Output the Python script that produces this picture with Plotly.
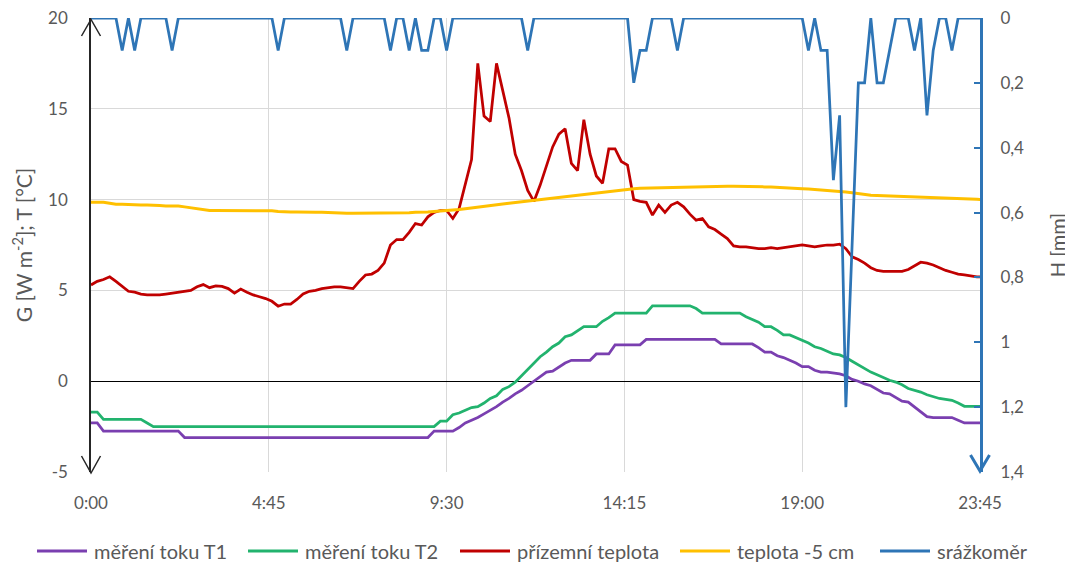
import plotly.graph_objects as go

# ---- data (10-minute records) ----
minutes = list(range(0, 1440, 10))

tick_minutes = [0, 285, 570, 855, 1140, 1425]
tick_labels = ["0:00", "4:45", "9:30", "14:15", "19:00", "23:45"]

left_ticks = [-5, 0, 5, 10, 15, 20]
left_labels = ["-5", "0", "5", "10", "15", "20"]
right_ticks = [0, 0.2, 0.4, 0.6, 0.8, 1.0, 1.2, 1.4]
right_labels = ["0", "0,2", "0,4", "0,6", "0,8", "1", "1,2", "1,4"]

names = ["měření toku T1", "měření toku T2", "přízemní teplota", "teplota -5 cm", "srážkoměr"]

flux_t1 = [
    -2.3, -2.3, -2.75, -2.75, -2.75, -2.75, -2.75, -2.75, -2.75, -2.75, -2.75, -2.75,
    -2.75, -2.75, -2.75, -3.1, -3.1, -3.1, -3.1, -3.1, -3.1, -3.1, -3.1, -3.1,
    -3.1, -3.1, -3.1, -3.1, -3.1, -3.1, -3.1, -3.1, -3.1, -3.1, -3.1, -3.1,
    -3.1, -3.1, -3.1, -3.1, -3.1, -3.1, -3.1, -3.1, -3.1, -3.1, -3.1, -3.1,
    -3.1, -3.1, -3.1, -3.1, -3.1, -3.1, -3.1, -2.75, -2.75, -2.75, -2.75, -2.55,
    -2.3, -2.15, -2.0, -1.8, -1.6, -1.4, -1.15, -0.95, -0.7, -0.5, -0.25, 0.0,
    0.25, 0.5, 0.55, 0.8, 1.0, 1.15, 1.15, 1.15, 1.15, 1.5, 1.5, 1.5,
    2.0, 2.0, 2.0, 2.0, 2.0, 2.3, 2.3, 2.3, 2.3, 2.3, 2.3, 2.3,
    2.3, 2.3, 2.3, 2.3, 2.3, 2.05, 2.05, 2.05, 2.05, 2.05, 2.05, 1.85,
    1.6, 1.6, 1.4, 1.3, 1.15, 1.0, 0.8, 0.8, 0.6, 0.5, 0.5, 0.45,
    0.4, 0.3, 0.1, 0.0, -0.15, -0.25, -0.45, -0.65, -0.7, -0.9, -1.1, -1.15,
    -1.4, -1.7, -1.95, -2.0, -2.0, -2.0, -2.0, -2.15, -2.3, -2.3, -2.3, -2.3,
]

flux_t2 = [
    -1.7, -1.7, -2.1, -2.1, -2.1, -2.1, -2.1, -2.1, -2.1, -2.3, -2.5, -2.5,
    -2.5, -2.5, -2.5, -2.5, -2.5, -2.5, -2.5, -2.5, -2.5, -2.5, -2.5, -2.5,
    -2.5, -2.5, -2.5, -2.5, -2.5, -2.5, -2.5, -2.5, -2.5, -2.5, -2.5, -2.5,
    -2.5, -2.5, -2.5, -2.5, -2.5, -2.5, -2.5, -2.5, -2.5, -2.5, -2.5, -2.5,
    -2.5, -2.5, -2.5, -2.5, -2.5, -2.5, -2.5, -2.5, -2.2, -2.2, -1.85, -1.75,
    -1.6, -1.45, -1.4, -1.2, -0.95, -0.8, -0.45, -0.3, -0.05, 0.3, 0.6, 1.0,
    1.35, 1.6, 1.9, 2.1, 2.45, 2.55, 2.8, 3.0, 3.0, 3.0, 3.3, 3.5,
    3.75, 3.75, 3.75, 3.75, 3.75, 3.75, 4.15, 4.15, 4.15, 4.15, 4.15, 4.15,
    4.15, 4.0, 3.75, 3.75, 3.75, 3.75, 3.75, 3.75, 3.75, 3.55, 3.4, 3.25,
    3.0, 3.0, 2.8, 2.55, 2.55, 2.4, 2.25, 2.1, 1.9, 1.8, 1.65, 1.5,
    1.45, 1.3, 1.1, 0.9, 0.7, 0.5, 0.35, 0.2, 0.05, -0.05, -0.2, -0.4,
    -0.5, -0.6, -0.75, -0.85, -0.95, -1.0, -1.05, -1.2, -1.38, -1.38, -1.38, -1.38,
]

ground_temp = [
    5.3, 5.5, 5.6, 5.75, 5.5, 5.2, 4.95, 4.9, 4.8, 4.75, 4.75, 4.75,
    4.8, 4.85, 4.9, 4.95, 5.0, 5.2, 5.32, 5.15, 5.25, 5.22, 5.1, 4.85,
    5.07, 4.9, 4.75, 4.65, 4.55, 4.4, 4.13, 4.25, 4.25, 4.5, 4.8, 4.95,
    5.0, 5.1, 5.15, 5.2, 5.2, 5.15, 5.1, 5.5, 5.85, 5.9, 6.1, 6.5,
    7.5, 7.8, 7.8, 8.2, 8.68, 8.6, 9.05, 9.3, 9.4, 9.4, 8.96, 9.5,
    10.9, 12.2, 17.5, 14.6, 14.3, 17.5, 16.0, 14.5, 12.5, 11.6, 10.5, 9.9,
    10.8, 11.8, 12.9, 13.6, 13.9, 12.0, 11.6, 14.4, 12.5, 11.3, 10.9, 12.8,
    12.8, 12.1, 11.9, 10.0, 9.9, 9.85, 9.15, 9.7, 9.3, 9.7, 9.85, 9.6,
    9.2, 8.87, 8.96, 8.5, 8.35, 8.1, 7.85, 7.45, 7.4, 7.4, 7.35, 7.3,
    7.3, 7.35, 7.3, 7.35, 7.4, 7.45, 7.5, 7.45, 7.4, 7.45, 7.5, 7.5,
    7.55, 7.3, 6.85, 6.7, 6.5, 6.25, 6.1, 6.05, 6.05, 6.05, 6.05, 6.15,
    6.35, 6.55, 6.5, 6.4, 6.25, 6.1, 6.0, 5.9, 5.85, 5.8, 5.75, 5.75,
]

soil_temp_5cm = [
    9.85, 9.85, 9.85, 9.8, 9.75, 9.75, 9.72, 9.7, 9.7, 9.7, 9.7, 9.68,
    9.65, 9.65, 9.65, 9.6, 9.55, 9.5, 9.45, 9.4, 9.4, 9.4, 9.4, 9.4,
    9.4, 9.4, 9.4, 9.4, 9.4, 9.38, 9.35, 9.32, 9.32, 9.32, 9.3, 9.3,
    9.3, 9.3, 9.28, 9.27, 9.25, 9.25, 9.25, 9.25, 9.25, 9.25, 9.25, 9.25,
    9.25, 9.25, 9.27, 9.28, 9.3, 9.3, 9.32, 9.35, 9.37, 9.38, 9.42, 9.46,
    9.5, 9.55, 9.6, 9.64, 9.68, 9.72, 9.76, 9.8, 9.84, 9.88, 9.92, 9.96,
    10.0, 10.04, 10.08, 10.12, 10.16, 10.2, 10.24, 10.28, 10.32, 10.36, 10.4, 10.44,
    10.5, 10.55, 10.57, 10.6, 10.62, 10.63, 10.65, 10.66, 10.67, 10.68, 10.7, 10.7,
    10.71, 10.72, 10.72, 10.73, 10.73, 10.74, 10.74, 10.74, 10.74, 10.74, 10.73, 10.72,
    10.7, 10.69, 10.68, 10.66, 10.64, 10.62, 10.6, 10.58, 10.56, 10.54, 10.52, 10.48,
    10.45, 10.42, 10.38, 10.32, 10.27, 10.24, 10.22, 10.21, 10.2, 10.19, 10.18, 10.16,
    10.15, 10.14, 10.13, 10.12, 10.11, 10.1, 10.08, 10.06, 10.05, 10.03, 10.02, 10.0,
]

rain_mm = [
    0, 0, 0, 0, 0, 0.1, 0, 0.1, 0, 0, 0, 0,
    0, 0.1, 0, 0, 0, 0, 0, 0, 0, 0, 0, 0,
    0, 0, 0, 0, 0, 0, 0.1, 0, 0, 0, 0, 0,
    0, 0, 0, 0, 0, 0.1, 0, 0, 0, 0, 0, 0,
    0.1, 0, 0, 0.1, 0, 0.1, 0.1, 0, 0, 0.1, 0, 0,
    0, 0, 0, 0, 0, 0, 0, 0, 0, 0, 0.1, 0,
    0, 0, 0, 0, 0, 0, 0, 0, 0, 0, 0, 0,
    0, 0, 0, 0.2, 0.1, 0.1, 0, 0, 0, 0, 0.1, 0,
    0, 0, 0, 0, 0, 0, 0, 0, 0, 0, 0, 0,
    0, 0, 0, 0, 0, 0, 0, 0.1, 0, 0.1, 0.1, 0.5,
    0.3, 1.2, 0.7, 0.2, 0.2, 0, 0.2, 0.2, 0.1, 0, 0, 0,
    0.1, 0, 0.3, 0.1, 0, 0, 0.1, 0, 0, 0, 0, 0,
]

colors = ["#7A3FB0", "#22B36E", "#C00000", "#FFC000", "#2E75B6"]
widths = [2.75, 2.75, 2.75, 3, 2.75]

# ---- figure ----
FONT = "Lato"
GRAY = "#595959"
GRID = "#D9D9D9"
OFF = 8  # page body margin of the html page

fig = go.Figure()
series = [flux_t1, flux_t2, ground_temp, soil_temp_5cm]
for vals, nm, col, w in zip(series, names[:4], colors[:4], widths[:4]):
    fig.add_trace(go.Scatter(x=minutes, y=vals, mode="lines", name=nm,
                             line=dict(color=col, width=w)))
fig.add_trace(go.Scatter(x=minutes, y=rain_mm, mode="lines", name=names[4],
                         line=dict(color=colors[4], width=widths[4]), yaxis="y2",
                         cliponaxis=False))

W, H = 1073 - OFF, 570 - OFF
ml, mr, mt, mb = 91 - OFF, 93, 18 - OFF, 98
pw = W - ml - mr
ph = H - mt - mb

def px(dx):
    return dx / pw

def py(dy):
    return dy / ph

def page_x(x):
    return (x - OFF - ml) / pw

def page_y(y):
    return (mt + ph - (y - OFF)) / ph

shapes = [
    # arrow heads on left axis
    dict(type="path", xref="paper", yref="paper",
         path=f"M {-px(9.5)} {1 - py(18)} L 0 {1 - py(1.5)} L {px(9.5)} {1 - py(18)}",
         line=dict(color="#262626", width=1.5)),
    dict(type="path", xref="paper", yref="paper",
         path=f"M {-px(9.5)} {py(16)} L 0 {py(-1)} L {px(9.5)} {py(16)}",
         line=dict(color="#262626", width=1.5)),
    # arrow head on right axis
    dict(type="path", xref="paper", yref="paper",
         path=f"M {1 - px(9.5)} {py(17)} L 1 {py(1)} L {1 + px(9.5)} {py(17)}",
         line=dict(color=colors[4], width=3)),
]

# legend row below the chart (drawn as line samples + text)
legend_line_x = [37, 248, 460, 680, 880]
legend_y = 551
annotations = []
for lx, nm, col in zip(legend_line_x, names, colors):
    shapes.append(dict(type="line", xref="paper", yref="paper",
                       x0=page_x(lx), x1=page_x(lx + 50),
                       y0=page_y(legend_y), y1=page_y(legend_y),
                       line=dict(color=col, width=3)))
    annotations.append(dict(text=nm, xref="paper", yref="paper",
                            x=page_x(lx + 55), y=page_y(legend_y),
                            xanchor="left", yanchor="middle", showarrow=False,
                            font=dict(family=FONT, size=20, color=GRAY)))

fig.update_layout(
    width=W, height=H,
    margin=dict(l=ml, r=mr, t=mt, b=mb, autoexpand=False),
    paper_bgcolor="white", plot_bgcolor="white",
    font=dict(family=FONT, size=17, color=GRAY),
    showlegend=False,
    xaxis=dict(range=[0, 1425], tickvals=tick_minutes, ticktext=tick_labels,
               showgrid=True, gridcolor=GRID, gridwidth=1, zeroline=False,
               showline=False, ticks="outside", ticklen=16, automargin=False,
               ticklabeloverflow="allow",
               tickcolor="rgba(0,0,0,0)", tickfont=dict(size=17, color=GRAY)),
    yaxis=dict(range=[-5, 20], tickvals=left_ticks, ticktext=left_labels,
               showgrid=True, gridcolor=GRID,
               gridwidth=1, zeroline=True, zerolinecolor="#000000", zerolinewidth=1.3,
               showline=True, linecolor="#262626", linewidth=1.5, automargin=False,
               ticklabeloverflow="allow",
               ticks="outside", ticklen=18, tickcolor="rgba(0,0,0,0)",
               tickfont=dict(size=17, color=GRAY),
               title=dict(text="G [W m<sup>-2</sup>]; T [°C]", standoff=11,
                          font=dict(size=21, color=GRAY))),
    yaxis2=dict(overlaying="y", side="right", range=[1.4, 0], automargin=False,
                ticklabeloverflow="allow",
                tickvals=right_ticks, ticktext=right_labels, showgrid=False,
                zeroline=False, showline=True, linecolor=colors[4], linewidth=3,
                ticks="inside", ticklen=6, tickwidth=2, tickcolor=colors[4],
                ticklabelstandoff=14, tickfont=dict(size=17, color=GRAY),
                title=dict(text="H [mm]", standoff=28, font=dict(size=20, color=GRAY))),
    shapes=shapes,
    annotations=annotations,
)

fig.write_html("out.html")
